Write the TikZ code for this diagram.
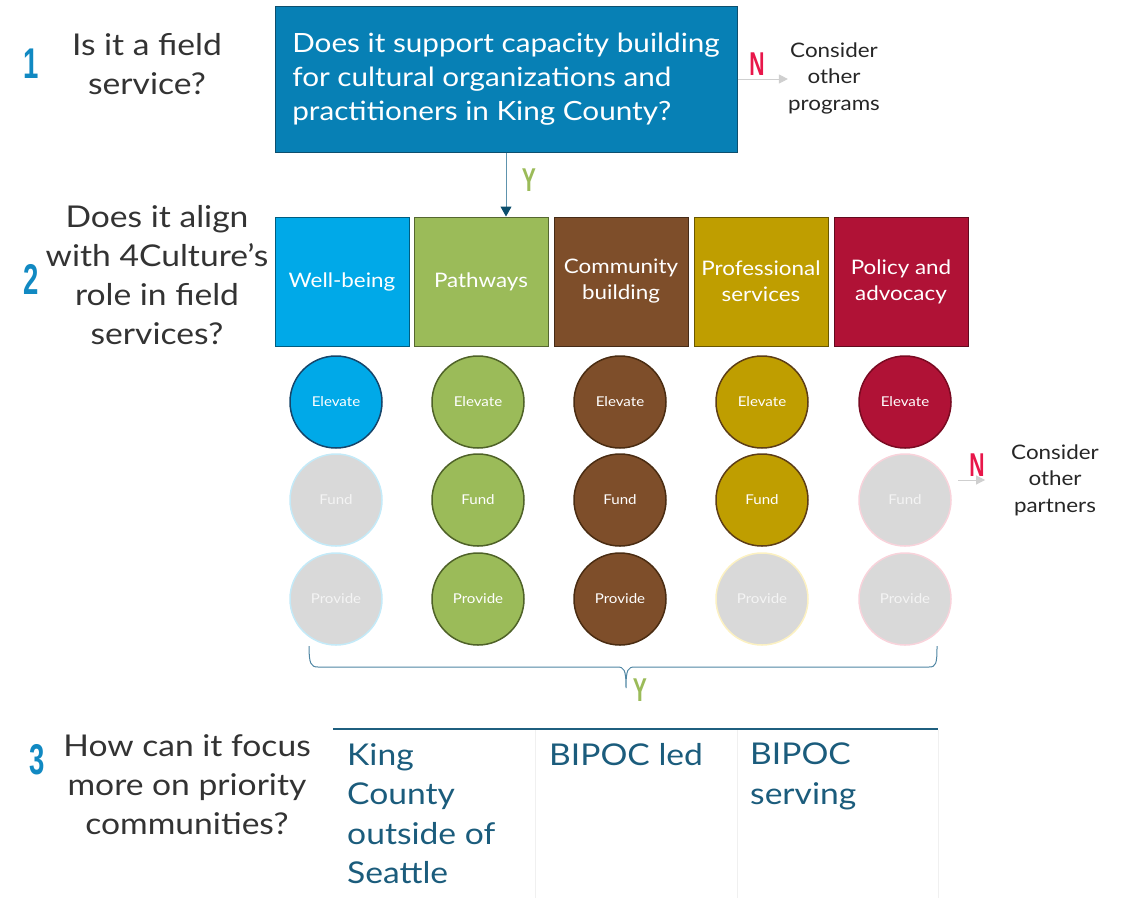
\documentclass[tikz,border=0pt]{standalone}
\usepackage{fontspec}
\setmainfont[FakeStretch=1.12]{Lato}
\newfontfamily\condfont[FakeStretch=0.64]{Liberation Sans}
\usetikzlibrary{arrows.meta}
\definecolor{boxblue}{HTML}{0780B5}
\definecolor{boxedge}{HTML}{0D4F6E}
\definecolor{numblue}{HTML}{1189C2}
\definecolor{qgrey}{HTML}{333333}
\definecolor{wellblue}{HTML}{00A9E8}
\definecolor{pathgreen}{HTML}{9BBB59}
\definecolor{commbrown}{HTML}{7E4E2A}
\definecolor{profgold}{HTML}{BF9E00}
\definecolor{polred}{HTML}{B01236}
\definecolor{welledge}{HTML}{16456A}
\definecolor{pathedge}{HTML}{4F6228}
\definecolor{commedge}{HTML}{4A2C12}
\definecolor{profedge}{HTML}{5C3D17}
\definecolor{poledge}{HTML}{7A0A22}
\definecolor{welloff}{HTML}{C4EAF8}
\definecolor{profoff}{HTML}{FCF1C2}
\definecolor{poloff}{HTML}{F8D3DB}
\definecolor{offgrey}{HTML}{D9D9D9}
\definecolor{offtext}{HTML}{F4F4F4}
\definecolor{nred}{HTML}{E8174A}
\definecolor{ygreen}{HTML}{9BBB59}
\definecolor{lightgrey}{HTML}{CFCFCF}
\definecolor{arrowline}{HTML}{5E93AD}
\definecolor{tipteal}{HTML}{0C4E6C}
\definecolor{tealtext}{HTML}{1B5C7C}
\definecolor{tealline}{HTML}{1F5F7F}
\definecolor{bracecol}{HTML}{4F86A3}
\definecolor{faint}{HTML}{F0F0F0}
\tikzset{
  question/.style={text=qgrey, align=center, font=\fontsize{30}{39}\selectfont},
  stepnum/.style={text=numblue, font=\condfont\bfseries\fontsize{43}{43}\selectfont},
  yn/.style={font=\condfont\bfseries\fontsize{33}{33}\selectfont},
  cat/.style={draw, line width=1pt, minimum width=134pt, minimum height=129pt,
    text=white, align=center, font=\fontsize{20}{26}\selectfont},
  role/.style={circle, minimum size=92pt, inner sep=0pt, line width=1.5pt,
    text=white, font=\fontsize{13.5}{14}\selectfont},
  off/.style={role, fill=offgrey, text=offtext},
  note/.style={align=center, inner sep=0pt, text=black!85, font=\fontsize{20}{26.5}\selectfont},
  gline/.style={draw=lightgrey, line width=1pt, -{Triangle[length=9pt,width=9pt,color=lightgrey]}},
  prio/.style={anchor=north west, inner sep=0pt, align=left, text=tealtext,
    font=\fontsize{30}{39.5}\selectfont}
}
\begin{document}
\begin{tikzpicture}[x=1pt,y=-1pt]
  \useasboundingbox (0,0) rectangle (1124,898);

  % step 1
  \node[stepnum] (s1) at (31,64) {1};
  \node[question] (q1) at (147,64) {Is it a field\\service?};
  \node[draw=boxedge, fill=boxblue, line width=1pt, minimum width=462pt, minimum height=146pt,
    align=left, text=white, font=\fontsize{26.5}{34}\selectfont] (top) at (506,79)
    {Does it support capacity building\\for cultural organizations and\\practitioners in King County?};
  \node[note] (prog) at (834,78) {Consider\\other\\programs};
  \node[yn, text=nred] (no1) at (757,64) {N};
  \draw[gline] (top.east) -- (top.east -| prog.west);

  % step 2
  \node[stepnum] (s2) at (31,279) {2};
  \node[question] (q2) at (157,275.5) {Does it align\\with 4Culture’s\\role in field\\services?};
  \node[cat, fill=wellblue, draw=wellblue!55!black] (wb) at (342,281.5) {Well-being};
  \node[cat, fill=pathgreen, draw=pathgreen!55!black] (pw) at (481,281.5) {Pathways};
  \node[cat, fill=commbrown, draw=commbrown!55!black] (cb) at (621,281.5) {Community\\building};
  \node[cat, fill=profgold, draw=profgold!55!black] (ps) at (761,281.5) {Professional\\services};
  \node[cat, fill=polred, draw=polred!55!black] (pa) at (901,281.5) {Policy and\\advocacy};
  \draw[draw=arrowline, line width=1pt, -{Triangle[length=10pt,width=11pt,color=tipteal]}]
    (top.south) -- (top.south |- pw.north);
  \node[yn, text=ygreen] (yes1) at (529,180) {Y};

  % roles under each area
  \node[role, fill=wellblue, draw=welledge] (wbE) at (336,402) {Elevate};
  \node[off, draw=welloff] (wbF) at (336,500) {Fund};
  \node[off, draw=welloff] (wbP) at (336,599) {Provide};
  \node[role, fill=pathgreen, draw=pathedge] (pwE) at (478,402) {Elevate};
  \node[role, fill=pathgreen, draw=pathedge] (pwF) at (478,500) {Fund};
  \node[role, fill=pathgreen, draw=pathedge] (pwP) at (478,599) {Provide};
  \node[role, fill=commbrown, draw=commedge] (cbE) at (620,402) {Elevate};
  \node[role, fill=commbrown, draw=commedge] (cbF) at (620,500) {Fund};
  \node[role, fill=commbrown, draw=commedge] (cbP) at (620,599) {Provide};
  \node[role, fill=profgold, draw=profedge] (psE) at (762,402) {Elevate};
  \node[role, fill=profgold, draw=profedge] (psF) at (762,500) {Fund};
  \node[off, draw=profoff] (psP) at (762,599) {Provide};
  \node[role, fill=polred, draw=poledge] (paE) at (905,402) {Elevate};
  \node[off, draw=poloff] (paF) at (905,500) {Fund};
  \node[off, draw=poloff] (paP) at (905,599) {Provide};

  \coordinate (nr) at (958,480);
  \node[note] (part) at (1055,480) {Consider\\other\\partners};
  \node[yn, text=nred] (no2) at (977,465) {N};
  \draw[gline, shorten >=26pt] (nr) -- (part.west);

  % brace down to step 3
  \coordinate (brL) at (309,646);
  \coordinate (brR) at (937,646);
  \coordinate (brTip) at (626,688);
  \draw[draw=bracecol, line width=1pt]
    (brL) .. controls (309,664) and (311,667) .. (318,667) -- (617,667)
    .. controls (624,667) and (626,669) .. (brTip)
    .. controls (626,669) and (628,667) .. (635,667) -- (929,667)
    .. controls (936,667) and (937,664) .. (brR);
  \node[yn, text=ygreen] (yes2) at (640,690) {Y};

  % step 3
  \node[stepnum] (s3) at (37,760) {3};
  \node[question] (q3) at (187,785) {How can it focus\\more on priority\\communities?};
  \draw[draw=faint, line width=1pt] (535,730) -- (535,898);
  \draw[draw=faint, line width=1pt] (737,730) -- (737,898);
  \draw[draw=faint, line width=1pt] (938,730) -- (938,898);
  \draw[draw=tealline, line width=2pt] (333,729) -- (938,729);
  \node[prio] (kc) at (347,743) {King\\County\\outside of\\Seattle};
  \node[prio] (led) at (549,743) {BIPOC led};
  \node[prio] (srv) at (750,743) {BIPOC\\serving};
\end{tikzpicture}
\end{document}
